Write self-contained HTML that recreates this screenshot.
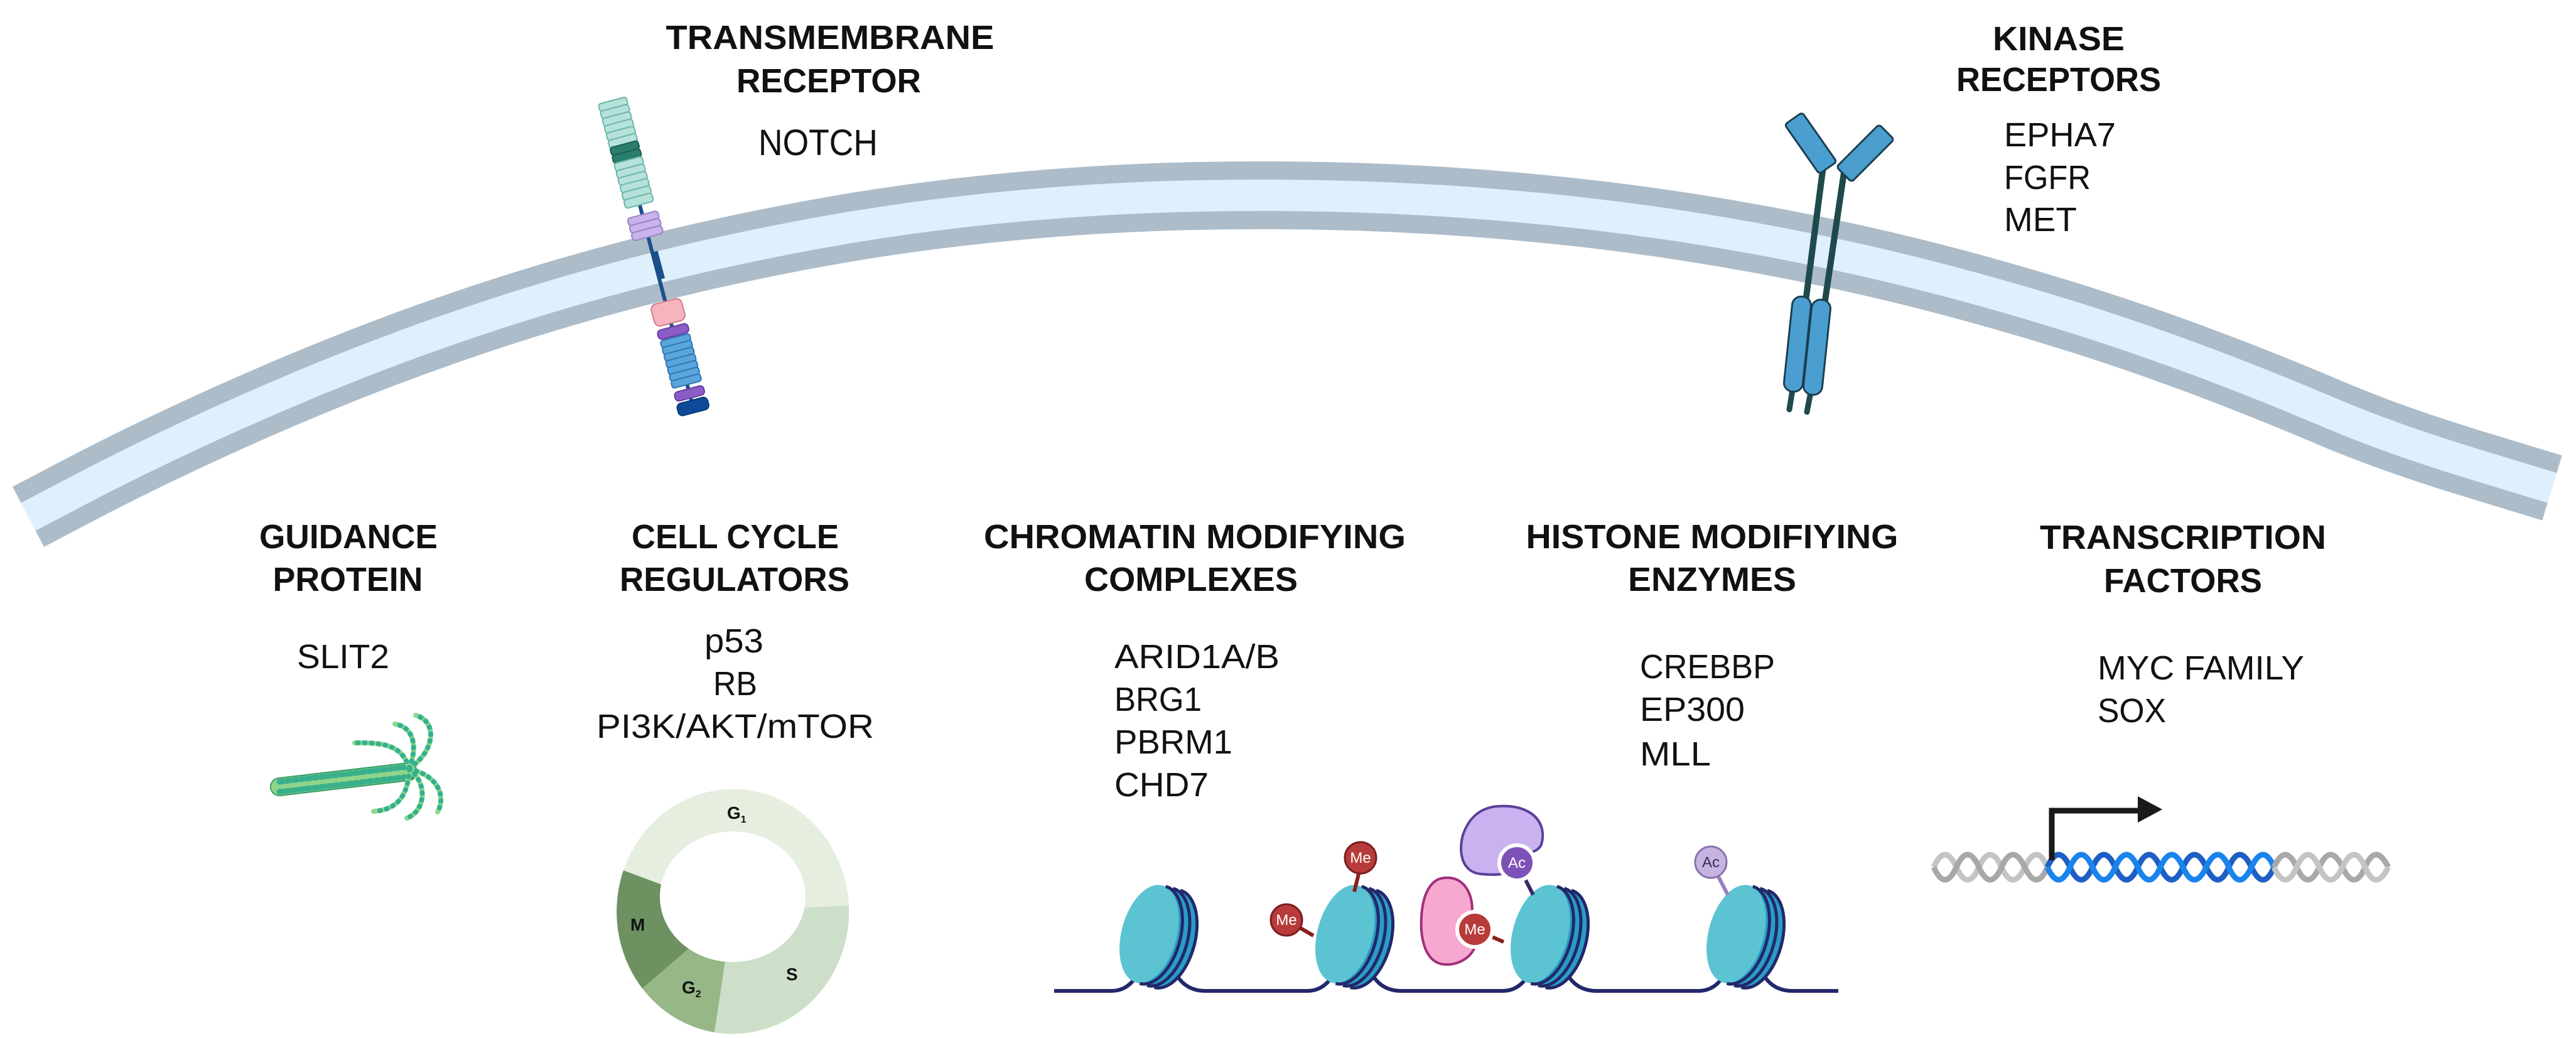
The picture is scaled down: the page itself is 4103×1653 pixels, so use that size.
<!DOCTYPE html>
<html><head><meta charset="utf-8">
<style>
html,body{margin:0;padding:0;background:#fff;}
svg{display:block;}
text{font-family:"Liberation Sans",Arial,sans-serif;fill:#111;}
.h{font-weight:bold;font-size:54px;}
.t{font-size:54px;}
</style></head>
<body>
<svg width="4103" height="1653" viewBox="0 0 4103 1653" xmlns="http://www.w3.org/2000/svg">
<defs>
<g id="nuc">
  <ellipse cx="22" cy="0" rx="44" ry="80" fill="#2a9dc4"/>
  <rect x="-10" y="-80" width="32" height="160" fill="#2a9dc4"/>
  <ellipse cx="-10" cy="0" rx="44" ry="80" fill="#5cc3d2"/>
  <path d="M-4,-80 A44,80 0 0 1 -4,80 M8,-80 A44,80 0 0 1 8,80 M20,-80 A44,80 0 0 1 20,80" fill="none" stroke="#22286a" stroke-width="5"/>
</g>
<path id="memp" d="M45,823 L127,780 Q209,737 309,690.5 Q409,644 509,603 Q609,562 709,527 Q809,492 909,463 Q1009,434 1109,411 Q1209,388 1309,370 Q1409,352 1509,340 Q1609,328 1709,321 Q1809,314 1909,312 Q2009,310 2109,312 Q2209,314 2309,320.5 Q2409,327 2509,338 Q2609,349 2709,365 Q2809,381 2909,402 Q3009,423 3109,449.5 Q3209,476 3309,507.5 Q3409,539 3509,576.5 Q3609,614 3709,656.5 Q3809,699 3937,738 L4065,777"/>
</defs>

<!-- membrane -->
<use href="#memp" fill="none" stroke="#adbcc9" stroke-width="108"/>
<use href="#memp" fill="none" stroke="#dff0fd" stroke-width="50"/>

<!-- Notch receptor -->
<g transform="translate(975,160) rotate(-14.8)">
  <line x1="0" y1="170" x2="0" y2="505" stroke="#1a4f8a" stroke-width="6"/>
  <rect x="1" y="250" width="8" height="45" fill="#1a4f8a"/>
  <g fill="#b5e2da" stroke="#6cb5aa" stroke-width="2">
    <rect x="-23" y="0" width="46" height="13" rx="4"/><rect x="-23" y="12" width="46" height="13" rx="4"/>
    <rect x="-23" y="24" width="46" height="13" rx="4"/><rect x="-23" y="36" width="46" height="13" rx="4"/>
    <rect x="-23" y="48" width="46" height="13" rx="4"/><rect x="-23" y="60" width="46" height="13" rx="4"/>
    <rect x="-23" y="72" width="46" height="13" rx="4" fill="#2b7d6e" stroke="#1d5e52"/>
    <rect x="-23" y="85" width="46" height="13" rx="4" fill="#2b7d6e" stroke="#1d5e52"/>
    <rect x="-23" y="98" width="46" height="13" rx="4"/><rect x="-23" y="110" width="46" height="13" rx="4"/>
    <rect x="-23" y="122" width="46" height="13" rx="4"/><rect x="-23" y="134" width="46" height="13" rx="4"/>
    <rect x="-23" y="146" width="46" height="13" rx="4"/><rect x="-23" y="158" width="46" height="14" rx="4"/>
  </g>
  <g fill="#c8b3ea" stroke="#9a80c8" stroke-width="2">
    <rect x="-25" y="188" width="50" height="13" rx="5"/><rect x="-25" y="200" width="50" height="13" rx="5"/><rect x="-25" y="212" width="50" height="13" rx="5"/>
  </g>
  <rect x="-25" y="331" width="50" height="36" rx="9" fill="#f6b5bd" stroke="#d07a86" stroke-width="2"/>
  <rect x="-25" y="373" width="50" height="15" rx="6" fill="#8a5cc6" stroke="#6a3ea6" stroke-width="2"/>
  <g fill="#5aa5dc" stroke="#2e76b5" stroke-width="2">
    <rect x="-24" y="390" width="48" height="12" rx="4"/><rect x="-24" y="401" width="48" height="12" rx="4"/>
    <rect x="-24" y="412" width="48" height="12" rx="4"/><rect x="-24" y="423" width="48" height="12" rx="4"/>
    <rect x="-24" y="434" width="48" height="12" rx="4"/><rect x="-24" y="445" width="48" height="12" rx="4"/>
    <rect x="-24" y="456" width="48" height="12" rx="4"/>
  </g>
  <rect x="-24" y="475" width="48" height="15" rx="6" fill="#8a5cc6" stroke="#6a3ea6" stroke-width="2"/>
  <rect x="-25" y="494" width="50" height="20" rx="7" fill="#0d4a9a" stroke="#083a7a" stroke-width="2"/>
</g>

<!-- Kinase receptor -->
<g stroke="#1f4a4b" stroke-linecap="round">
  <line x1="2904" y1="265" x2="2876" y2="480" stroke-width="10"/>
  <line x1="2937" y1="275" x2="2906" y2="485" stroke-width="10"/>
  <line x1="2856" y1="615" x2="2850" y2="652" stroke-width="9"/>
  <line x1="2885" y1="620" x2="2878" y2="656" stroke-width="9"/>
</g>
<g fill="#4a9fd0" stroke="#1c3f50" stroke-width="3">
  <rect x="-17" y="-48" width="34" height="96" rx="5" transform="translate(2884,228) rotate(-35)"/>
  <rect x="-17" y="-48" width="34" height="96" rx="5" transform="translate(2971,244) rotate(45)"/>
  <rect x="-15" y="-76" width="30" height="152" rx="14" transform="translate(2863,548) rotate(6)"/>
  <rect x="-15" y="-76" width="30" height="152" rx="14" transform="translate(2894,553) rotate(6)"/>
</g>

<!-- Top texts -->
<text class="h" x="1322" y="78" text-anchor="middle" textLength="523" lengthAdjust="spacingAndGlyphs">TRANSMEMBRANE</text>
<text class="h" x="1320" y="147" text-anchor="middle" textLength="294" lengthAdjust="spacingAndGlyphs">RECEPTOR</text>
<text class="t" x="1208" y="247" textLength="190" lengthAdjust="spacingAndGlyphs" style="font-size:58px">NOTCH</text>
<text class="h" x="3279" y="80" text-anchor="middle" textLength="210" lengthAdjust="spacingAndGlyphs">KINASE</text>
<text class="h" x="3279" y="145" text-anchor="middle" textLength="326" lengthAdjust="spacingAndGlyphs">RECEPTORS</text>
<text class="t" x="3192" y="233" textLength="178" lengthAdjust="spacingAndGlyphs">EPHA7</text>
<text class="t" x="3192" y="301" textLength="138" lengthAdjust="spacingAndGlyphs">FGFR</text>
<text class="t" x="3192" y="368" textLength="116" lengthAdjust="spacingAndGlyphs">MET</text>

<!-- Bottom headers -->
<text class="h" x="555" y="873" text-anchor="middle" textLength="284" lengthAdjust="spacingAndGlyphs">GUIDANCE</text>
<text class="h" x="554" y="941" text-anchor="middle" textLength="239" lengthAdjust="spacingAndGlyphs">PROTEIN</text>
<text class="h" x="1171" y="873" text-anchor="middle" textLength="330" lengthAdjust="spacingAndGlyphs">CELL CYCLE</text>
<text class="h" x="1170" y="941" text-anchor="middle" textLength="366" lengthAdjust="spacingAndGlyphs">REGULATORS</text>
<text class="h" x="1903" y="873" text-anchor="middle" textLength="672" lengthAdjust="spacingAndGlyphs">CHROMATIN MODIFYING</text>
<text class="h" x="1897" y="941" text-anchor="middle" textLength="340" lengthAdjust="spacingAndGlyphs">COMPLEXES</text>
<text class="h" x="2727" y="873" text-anchor="middle" textLength="593" lengthAdjust="spacingAndGlyphs">HISTONE MODIFIYING</text>
<text class="h" x="2727" y="941" text-anchor="middle" textLength="268" lengthAdjust="spacingAndGlyphs">ENZYMES</text>
<text class="h" x="3477" y="874" text-anchor="middle" textLength="456" lengthAdjust="spacingAndGlyphs">TRANSCRIPTION</text>
<text class="h" x="3477" y="943" text-anchor="middle" textLength="252" lengthAdjust="spacingAndGlyphs">FACTORS</text>

<!-- Items -->
<text class="t" x="473" y="1064" textLength="147" lengthAdjust="spacingAndGlyphs">SLIT2</text>
<text class="t" x="1122" y="1039" textLength="94" lengthAdjust="spacingAndGlyphs">p53</text>
<text class="t" x="1136" y="1107" textLength="70" lengthAdjust="spacingAndGlyphs">RB</text>
<text class="t" x="950" y="1175" textLength="442" lengthAdjust="spacingAndGlyphs">PI3K/AKT/mTOR</text>
<text class="t" x="1775" y="1064" textLength="263" lengthAdjust="spacingAndGlyphs">ARID1A/B</text>
<text class="t" x="1775" y="1132" textLength="139" lengthAdjust="spacingAndGlyphs">BRG1</text>
<text class="t" x="1775" y="1200" textLength="188" lengthAdjust="spacingAndGlyphs">PBRM1</text>
<text class="t" x="1775" y="1268" textLength="150" lengthAdjust="spacingAndGlyphs">CHD7</text>
<text class="t" x="2612" y="1080" textLength="215" lengthAdjust="spacingAndGlyphs">CREBBP</text>
<text class="t" x="2612" y="1148" textLength="167" lengthAdjust="spacingAndGlyphs">EP300</text>
<text class="t" x="2612" y="1219" textLength="113" lengthAdjust="spacingAndGlyphs">MLL</text>
<text class="t" x="3341" y="1082" textLength="329" lengthAdjust="spacingAndGlyphs">MYC FAMILY</text>
<text class="t" x="3341" y="1150" textLength="109" lengthAdjust="spacingAndGlyphs">SOX</text>

<!-- SLIT2 drawing -->
<g fill="none" stroke-linecap="round">
  <line x1="445" y1="1253" x2="650" y2="1229" stroke="#3a9e62" stroke-width="30"/>
  <line x1="445" y1="1253" x2="650" y2="1229" stroke="#8fd48a" stroke-width="26" stroke-dasharray="4 7"/>
  <line x1="445" y1="1245" x2="650" y2="1221" stroke="#38b08c" stroke-width="9" stroke-dasharray="5 6"/>
  <line x1="445" y1="1261" x2="650" y2="1237" stroke="#38b08c" stroke-width="9" stroke-dasharray="5 6"/>
  <g stroke="#8fd88f" stroke-width="8">
    <path d="M652,1223 C640,1190 620,1182 565,1183"/><path d="M652,1223 C665,1190 660,1158 629,1153"/>
    <path d="M652,1223 C690,1200 700,1150 662,1139"/><path d="M652,1225 C700,1235 710,1270 697,1293"/>
    <path d="M652,1225 C680,1245 680,1290 648,1303"/><path d="M652,1225 C650,1270 630,1290 595,1292"/>
  </g>
  <g stroke="#35b08e" stroke-width="8" stroke-dasharray="1 10">
    <path d="M652,1223 C640,1190 620,1182 565,1183"/><path d="M652,1223 C665,1190 660,1158 629,1153"/>
    <path d="M652,1223 C690,1200 700,1150 662,1139"/><path d="M652,1225 C700,1235 710,1270 697,1293"/>
    <path d="M652,1225 C680,1245 680,1290 648,1303"/><path d="M652,1225 C650,1270 630,1290 595,1292"/>
  </g>
</g>

<!-- Cell cycle -->
<path d="M1167,1451 L993,1386 A185,195 0 0 1 1352,1442 Z" fill="#e5eedf"/>
<path d="M1167,1451 L1352,1442 A185,195 0 0 1 1138,1644 Z" fill="#cddfc8"/>
<path d="M1167,1451 L1138,1644 A185,195 0 0 1 1023,1574 Z" fill="#97b787"/>
<path d="M1167,1451 L1023,1574 A185,195 0 0 1 993,1386 Z" fill="#6e9162"/>
<ellipse cx="1167" cy="1428" rx="116" ry="104" fill="#fff"/>
<g font-family="Liberation Sans, sans-serif" font-weight="bold" font-size="28" fill="#333">
  <text x="1158" y="1304">G<tspan font-size="16" dy="6">1</tspan></text>
  <text x="1252" y="1561">S</text>
  <text x="1086" y="1582">G<tspan font-size="16" dy="6">2</tspan></text>
  <text x="1004" y="1482">M</text>
</g>

<!-- Chromatin -->
<path d="M1679,1578 H1770 Q1800,1578 1815,1545 L1870,1545 Q1885,1578 1920,1578 H2082 Q2112,1578 2127,1545 L2182,1545 Q2197,1578 2232,1578 H2393 Q2423,1578 2438,1545 L2493,1545 Q2508,1578 2543,1578 H2705 Q2735,1578 2750,1545 L2805,1545 Q2820,1578 2855,1578 H2928" fill="none" stroke="#22286a" stroke-width="6"/>
<use href="#nuc" transform="translate(1840,1490) rotate(15)"/>
<use href="#nuc" transform="translate(2152,1490) rotate(15)"/>
<use href="#nuc" transform="translate(2463,1490) rotate(15)"/>
<use href="#nuc" transform="translate(2775,1490) rotate(15)"/>

<!-- marks -->
<g stroke-width="6">
  <line x1="2167" y1="1380" x2="2157" y2="1420" stroke="#8a1e1e"/>
  <line x1="2049" y1="1465" x2="2092" y2="1490" stroke="#8a1e1e"/>
  <line x1="2349" y1="1480" x2="2395" y2="1500" stroke="#8a1e1e"/>
  <line x1="2416" y1="1374" x2="2442" y2="1425" stroke="#3a2a6a"/>
  <line x1="2725" y1="1373" x2="2752" y2="1425" stroke="#9a80c0"/>
</g>
<path d="M2385,1284 C2440,1280 2465,1310 2455,1345 C2448,1360 2430,1355 2416,1374 C2405,1390 2400,1395 2360,1392 C2330,1390 2322,1360 2330,1330 C2340,1300 2360,1286 2385,1284 Z" fill="#c9b2ef" stroke="#5b3f9a" stroke-width="4"/>
<path d="M2300,1398 C2330,1395 2345,1420 2345,1450 C2330,1458 2335,1500 2350,1505 C2345,1525 2320,1540 2295,1535 C2268,1528 2262,1490 2264,1460 C2266,1425 2278,1400 2300,1398 Z" fill="#f7a8d0" stroke="#a0307a" stroke-width="4"/>
<g font-family="Liberation Sans, sans-serif" font-size="24" text-anchor="middle">
  <circle cx="2167" cy="1366" r="25" fill="#b83a3a" stroke="#7a1e1e" stroke-width="3"/>
  <text x="2167" y="1374" style="fill:#fff">Me</text>
  <circle cx="2049" cy="1465" r="25" fill="#b83a3a" stroke="#7a1e1e" stroke-width="3"/>
  <text x="2049" y="1473" style="fill:#fff">Me</text>
  <circle cx="2349" cy="1480" r="28" fill="#b83a3a" stroke="#fff" stroke-width="6"/>
  <text x="2349" y="1488" style="fill:#fff">Me</text>
  <circle cx="2416" cy="1374" r="28" fill="#7d52b8" stroke="#fff" stroke-width="6"/>
  <text x="2416" y="1382" style="fill:#fff">Ac</text>
  <circle cx="2725" cy="1373" r="25" fill="#c5b3e0" stroke="#8a70b0" stroke-width="3"/>
  <text x="2725" y="1381" style="fill:#3a2a5a">Ac</text>
</g>

<!-- DNA -->
<g fill="none" stroke-width="9">
  <path d="M3080,1381 Q3098,1341 3116,1381 T3152,1381 T3188,1381 T3225,1381 T3261,1381" stroke="#c4c4c4"/>
  <path d="M3080,1381 Q3098,1421 3116,1381 T3152,1381 T3188,1381 T3225,1381 T3261,1381" stroke="#a8a8a8"/>
  <path d="M3261,1381 Q3279,1341 3297,1381 T3333,1381 T3369,1381 T3405,1381 T3441,1381 T3477,1381 T3514,1381 T3550,1381 T3586,1381 T3622,1381" stroke="#1d5fc4"/>
  <path d="M3261,1381 Q3279,1421 3297,1381 T3333,1381 T3369,1381 T3405,1381 T3441,1381 T3477,1381 T3514,1381 T3550,1381 T3586,1381 T3622,1381" stroke="#1a84ec"/>
  <path d="M3622,1381 Q3640,1341 3658,1381 T3694,1381 T3731,1381 T3767,1381 T3804,1381" stroke="#a8a8a8"/>
  <path d="M3622,1381 Q3640,1421 3658,1381 T3694,1381 T3731,1381 T3767,1381 T3804,1381" stroke="#c4c4c4"/>
</g>
<path d="M3268,1370 V1291 H3410" fill="none" stroke="#1a1a1a" stroke-width="9"/>
<polygon points="3405,1268 3444,1289 3405,1310" fill="#1a1a1a"/>
</svg>
</body></html>
